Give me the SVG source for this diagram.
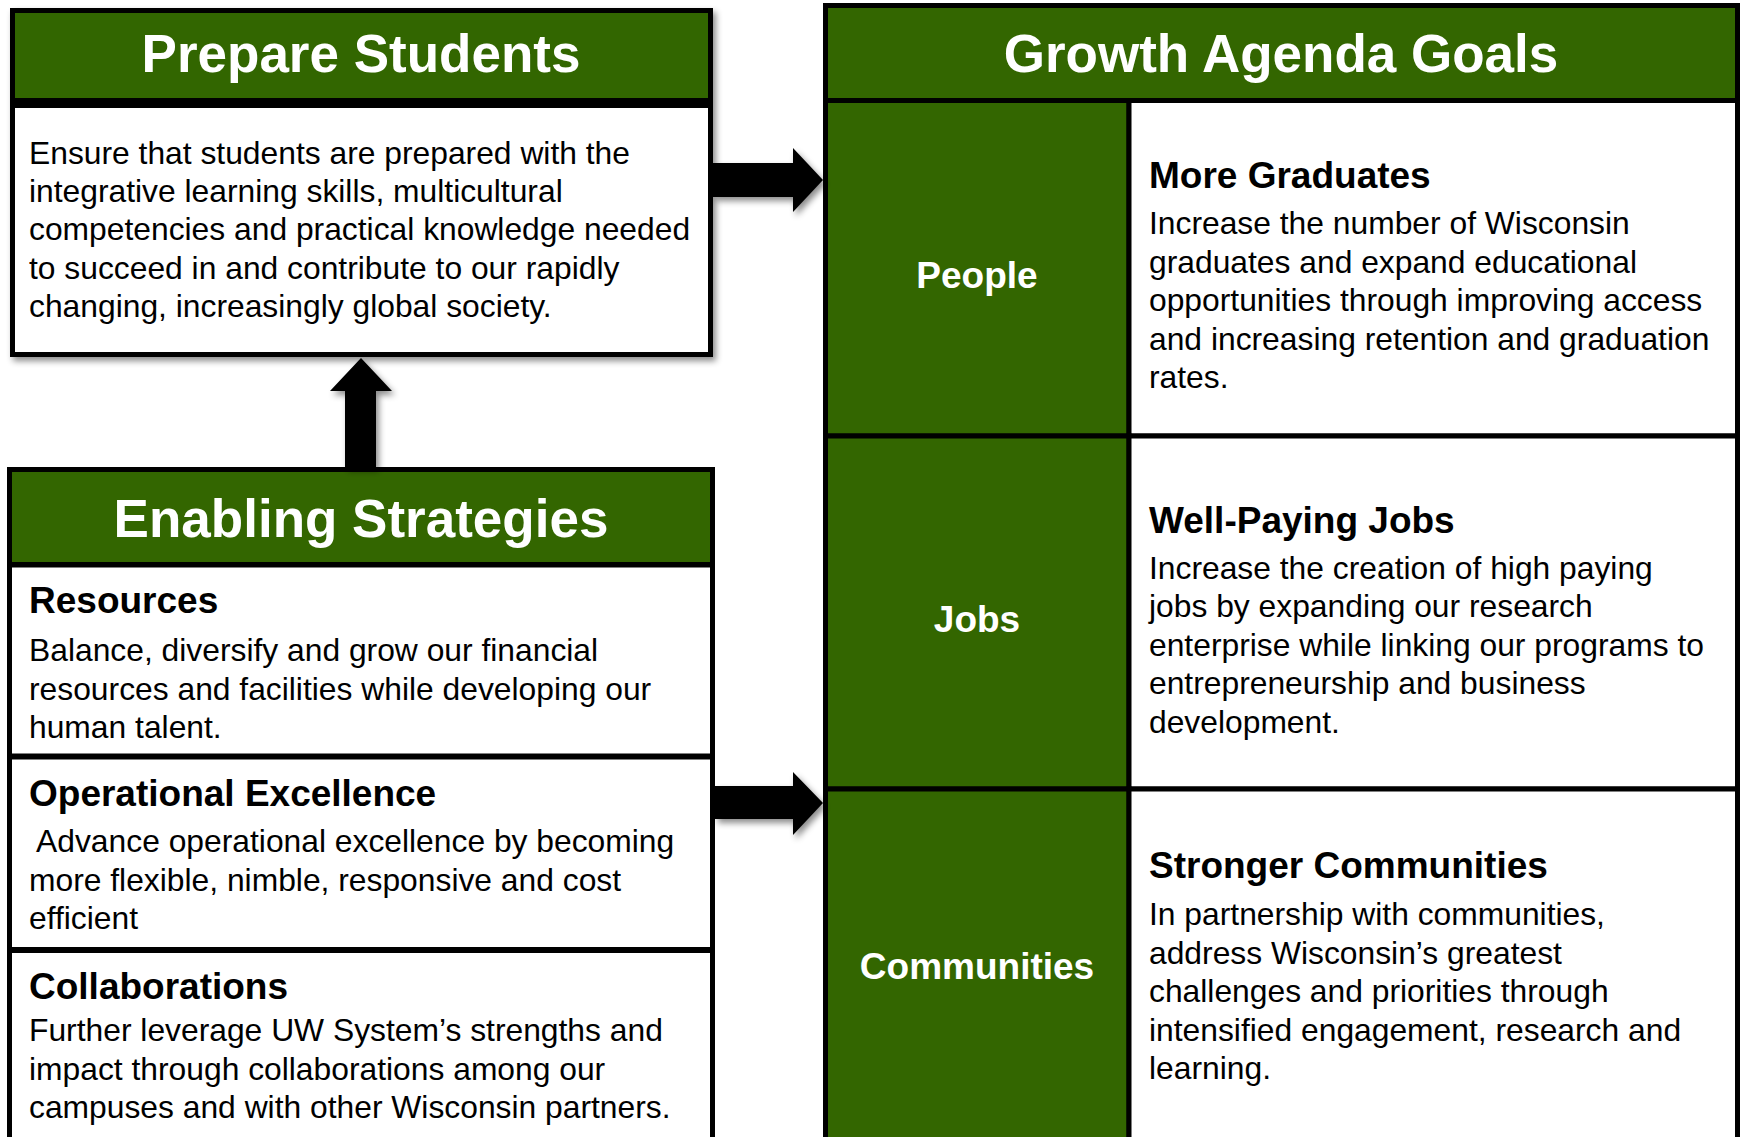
<svg xmlns="http://www.w3.org/2000/svg" width="1740" height="1137" viewBox="0 0 1740 1137">
<style>
.hdr{fill:#336600;stroke:#000;stroke-width:5}
.box{fill:#fff;stroke:#000;stroke-width:5}
.cell{fill:#336600;stroke:#000;stroke-width:5}
.div{stroke:#000;stroke-width:6}
.title{font-family:"Liberation Sans",Arial,sans-serif;font-weight:bold;font-size:53px;fill:#fff;text-anchor:middle}
.lbl{font-family:"Liberation Sans",Arial,sans-serif;font-weight:bold;font-size:37px;fill:#fff;text-anchor:middle}
.head{font-family:"Liberation Sans",Arial,sans-serif;font-weight:bold;font-size:37px;fill:#000}
.body{font-family:"Liberation Sans",Arial,sans-serif;font-size:31.8px;fill:#000}
.arrow{fill:#000;filter:url(#sh)}
</style>
<defs>
<filter id="sh" x="-20%" y="-20%" width="150%" height="150%">
<feDropShadow dx="3" dy="4" stdDeviation="3" flood-color="#000" flood-opacity="0.45"/>
</filter>
</defs>
<rect width="1740" height="1137" fill="#fff"/>

<g id="node-prepare">
<g filter="url(#sh)">
<rect class="hdr" x="12.5" y="10.5" width="698" height="90"/>
<rect class="box" x="12.5" y="105.5" width="698" height="249"/>
</g>
<text class="title" x="361" y="72">Prepare Students</text>
<text class="body">
<tspan x="29" y="163.5">Ensure that students are prepared with the</tspan>
<tspan x="29" y="201.9">integrative learning skills, multicultural</tspan>
<tspan x="29" y="240.3">competencies and practical knowledge needed</tspan>
<tspan x="29" y="278.7">to succeed in and contribute to our rapidly</tspan>
<tspan x="29" y="317.1">changing, increasingly global society.</tspan>
</text>
</g>

<g id="node-enabling">
<rect class="hdr" x="9.5" y="469.5" width="703" height="95"/>
<rect class="box" x="9.5" y="565" width="703" height="590"/>
<line class="div" x1="9.5" y1="756.5" x2="712.5" y2="756.5"/>
<line class="div" x1="9.5" y1="950" x2="712.5" y2="950"/>
<text class="title" x="361" y="537">Enabling Strategies</text>
<text class="head" x="29" y="613">Resources</text>
<text class="body">
<tspan x="29" y="661">Balance, diversify and grow our financial</tspan>
<tspan x="29" y="699.5">resources and facilities while developing our</tspan>
<tspan x="29" y="738">human talent.</tspan>
</text>
<text class="head" x="29" y="805.5">Operational Excellence</text>
<text class="body" xml:space="preserve"><tspan x="29" y="852"> Advance operational excellence by becoming</tspan><tspan x="29" y="890.5">more flexible, nimble, responsive and cost</tspan><tspan x="29" y="929">efficient</tspan></text>
<text class="head" x="29" y="998.5">Collaborations</text>
<text class="body">
<tspan x="29" y="1041">Further leverage UW System’s strengths and</tspan>
<tspan x="29" y="1079.5">impact through collaborations among our</tspan>
<tspan x="29" y="1118">campuses and with other Wisconsin partners.</tspan>
</text>
</g>

<g id="node-growth">
<rect class="hdr" x="825.5" y="5.5" width="912" height="95"/>
<text class="title" x="1281" y="72">Growth Agenda Goals</text>
</g>

<g id="node-people">
<rect class="cell" x="825.5" y="100.5" width="303.5" height="335.5"/>
<rect class="box" x="1129" y="100.5" width="608.5" height="335.5"/>
<text class="lbl" x="977" y="288">People</text>
<text class="head" x="1149" y="187.5">More Graduates</text>
<text class="body">
<tspan x="1149" y="234">Increase the number of Wisconsin</tspan>
<tspan x="1149" y="272.5">graduates and expand educational</tspan>
<tspan x="1149" y="311">opportunities through improving access</tspan>
<tspan x="1149" y="349.5">and increasing retention and graduation</tspan>
<tspan x="1149" y="388">rates.</tspan>
</text>
</g>

<g id="node-jobs">
<rect class="cell" x="825.5" y="436" width="303.5" height="353"/>
<rect class="box" x="1129" y="436" width="608.5" height="353"/>
<text class="lbl" x="977" y="632">Jobs</text>
<text class="head" x="1149" y="532.5">Well-Paying Jobs</text>
<text class="body">
<tspan x="1149" y="578.5">Increase the creation of high paying</tspan>
<tspan x="1149" y="617">jobs by expanding our research</tspan>
<tspan x="1149" y="655.5">enterprise while linking our programs to</tspan>
<tspan x="1149" y="694">entrepreneurship and business</tspan>
<tspan x="1149" y="732.5">development.</tspan>
</text>
</g>

<g id="node-communities">
<rect class="cell" x="825.5" y="789" width="303.5" height="370"/>
<rect class="box" x="1129" y="789" width="608.5" height="370"/>
<text class="lbl" x="977" y="978.5">Communities</text>
<text class="head" x="1149" y="877.5">Stronger Communities</text>
<text class="body">
<tspan x="1149" y="925">In partnership with communities,</tspan>
<tspan x="1149" y="963.5">address Wisconsin’s greatest</tspan>
<tspan x="1149" y="1002">challenges and priorities through</tspan>
<tspan x="1149" y="1040.5">intensified engagement, research and</tspan>
<tspan x="1149" y="1079">learning.</tspan>
</text>
</g>

<g id="connectors">
<polygon class="arrow" points="361,358 392,391 376,391 376,467 345,467 345,391 330,391"/>
<polygon class="arrow" points="713,163 793,163 793,148 823,180 793,212 793,197 713,197"/>
<polygon class="arrow" points="715,786 793,786 793,772 823,803 793,835 793,819 715,819"/>
</g>
</svg>
